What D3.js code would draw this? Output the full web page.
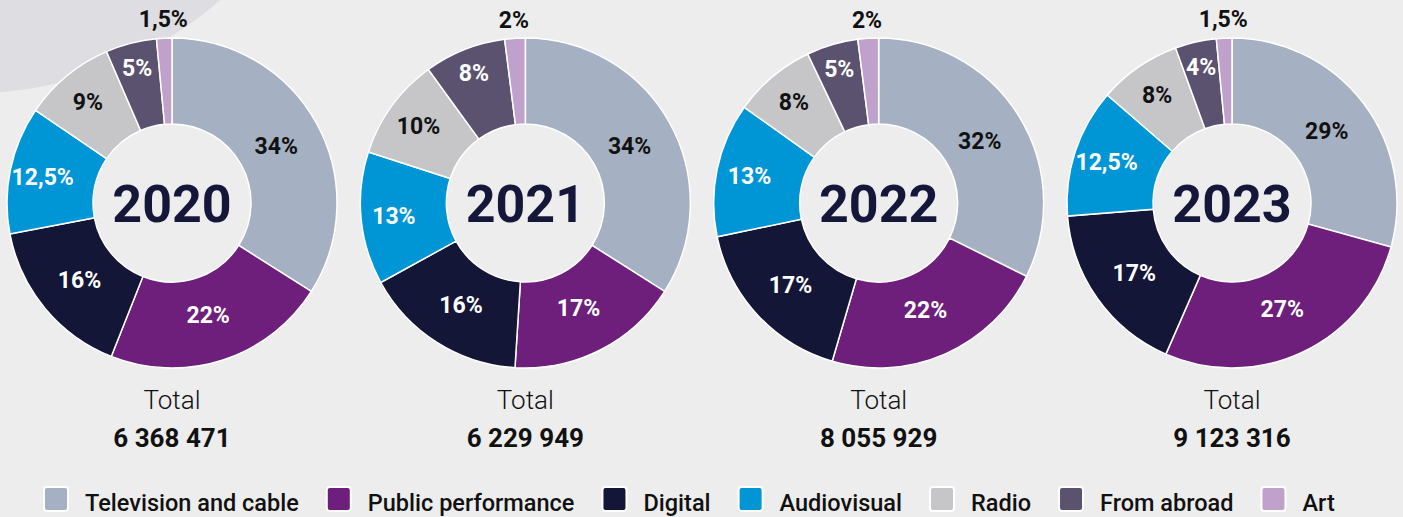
<!DOCTYPE html>
<html>
<head>
<meta charset="utf-8">
<script src="https://cdn.jsdelivr.net/npm/d3@7"></script>
<style>
  body { margin: 0; background: #ededed; }
  svg { display: block; font-family: Roboto, "Noto Sans", sans-serif; }
</style>
</head>
<body>
<script>
// data
var years = ["2020", "2021", "2022", "2023"];
var categories = ["Television and cable", "Public performance", "Digital", "Audiovisual", "Radio", "From abroad", "Art"];
var colors = ["#a5b1c2", "#6d1f7b", "#141638", "#0096d6", "#c6c6c8", "#5b5270", "#c0a1cb"];
var shares2020 = [34, 22, 16, 12.5, 9, 5, 1.5];
var shares2021 = [34, 17, 16, 13, 10, 8, 2];
var shares2022 = [32, 22, 17, 13, 8, 5, 2];
var shares2023 = [29, 27, 17, 12.5, 8, 4, 1.5];
var totals = [6368471, 6229949, 8055929, 9123316];

var shares = [shares2020, shares2021, shares2022, shares2023];

// label look per category
var labelColor = ["#111", "#fff", "#fff", "#fff", "#111", "#fff", "#111"];
var labelRadius = [119, 117, 120, 132, 132, 140, 184];

var svgWidth = 1403;
var svgHeight = 517;
var outerR = 165;
var innerR = 79;
var cy = 203;

var locale = d3.formatLocale({decimal: ",", thousands: " ", grouping: [3], currency: ["", ""]});
var fmtPct = locale.format(".1~f");
var fmtTotal = locale.format(",d");

var svg = d3.select("body")
  .append("svg")
  .attr("width", svgWidth)
  .attr("height", svgHeight);

// decorative shape top-left
svg.append("circle")
  .attr("cx", -27)
  .attr("cy", -282)
  .attr("r", 375)
  .attr("fill", "#dedde2");

var x = d3.scaleLinear()
  .domain([0, years.length - 1])
  .range([172, 1232]);

var color = d3.scaleOrdinal()
  .domain(categories)
  .range(colors);

var pie = d3.pie()
  .sort(null)
  .value(d => d.value);

var arc = d3.arc()
  .innerRadius(innerR)
  .outerRadius(outerR);

years.forEach(function(year, i) {
  var data = categories.map((c, j) => ({cat: c, idx: j, value: shares[i][j]}));
  var g = svg.append("g")
    .attr("transform", `translate(${x(i)}, ${cy})`);

  var arcs = pie(data);

  g.selectAll("path")
    .data(arcs)
    .enter()
    .append("path")
    .attr("d", arc)
    .attr("fill", d => color(d.data.cat))
    .attr("stroke", "#fff")
    .attr("stroke-width", 1.5);

  g.selectAll("text.pct")
    .data(arcs)
    .enter()
    .append("text")
    .attr("class", "pct")
    .attr("transform", function(d) {
      var r = labelRadius[d.data.idx];
      var a = (d.startAngle + d.endAngle) / 2;
      return `translate(${r * Math.sin(a)}, ${-r * Math.cos(a)})`;
    })
    .attr("text-anchor", "middle")
    .attr("dy", "0.36em")
    .style("font-size", "23px")
    .style("font-weight", 700)
    .attr("fill", d => labelColor[d.data.idx])
    .text(d => fmtPct(d.data.value) + "%");

  g.append("text")
    .attr("text-anchor", "middle")
    .attr("dy", "0.36em")
    .style("font-size", "52px")
    .style("font-weight", 700)
    .attr("fill", "#15173a")
    .text(year);

  g.append("text")
    .attr("text-anchor", "middle")
    .attr("y", 206)
    .style("font-size", "26px")
    .style("font-weight", 300)
    .attr("fill", "#111")
    .text("Total");

  g.append("text")
    .attr("text-anchor", "middle")
    .attr("y", 244)
    .style("font-size", "26px")
    .style("font-weight", 700)
    .attr("fill", "#111")
    .text(fmtTotal(totals[i]));
});

// legend
var legend = svg.append("g")
  .attr("transform", "translate(44, 487)");

var lx = 0;
categories.forEach(function(c) {
  var item = legend.append("g")
    .attr("transform", `translate(${lx}, 0)`);
  item.append("rect")
    .attr("width", 24)
    .attr("height", 24)
    .attr("rx", 3)
    .attr("fill", color(c))
    .attr("stroke", "#fff")
    .attr("stroke-width", 2);
  var t = item.append("text")
    .attr("x", 41)
    .attr("y", 24)
    .style("font-size", "23.5px")
    .style("font-weight", 500)
    .attr("fill", "#111")
    .text(c);
  lx += 41 + t.node().getComputedTextLength() + 28;
});
</script>
</body>
</html>
